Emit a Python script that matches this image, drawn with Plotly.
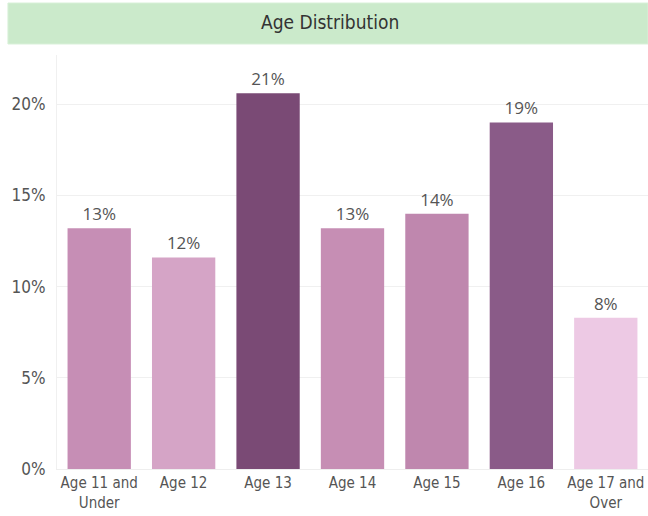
import plotly.graph_objects as go

categories = ["Age 11 and<br>Under", "Age 12", "Age 13", "Age 14", "Age 15", "Age 16", "Age 17 and<br>Over"]
values = [13.2, 11.6, 20.6, 13.2, 14.0, 19.0, 8.3]
labels = ["13%", "12%", "21%", "13%", "14%", "19%", "8%"]
colors = ["#C68EB5", "#D5A4C6", "#7A4A75", "#C68EB4", "#BF87AE", "#8A5B88", "#EDC9E4"]
tick_vals = [0, 5, 10, 15, 20]
tick_text = ["0%", "5%", "10%", "15%", "20%"]

cond = "DejaVu Sans Condensed, Liberation Sans Narrow, Liberation Sans, sans-serif"

fig = go.Figure(go.Bar(
    x=categories, y=values, text=labels, textposition="outside",
    marker=dict(color=colors, line=dict(width=0)),
    textfont=dict(family="Open Sans, Liberation Sans, sans-serif", size=17, color="#555555"),
    cliponaxis=False, hoverinfo="skip",
))

fig.update_layout(
    width=648, height=516,
    margin=dict(l=57, r=0, t=55, b=47),
    paper_bgcolor="white", plot_bgcolor="white",
    bargap=0.25,
    showlegend=False,
    font=dict(family=cond, color="#666666"),
    shapes=[dict(type="rect", xref="paper", yref="paper",
                 x0=-0.083, x1=1.0, y0=1.0266, y1=1.1256,
                 fillcolor="#CBEACB", line=dict(width=1, color="#D8F0D8"), layer="below")],
    annotations=[dict(text="Age Distribution", xref="paper", yref="paper",
                      x=0.462, y=1.0797, showarrow=False, xanchor="center", yanchor="middle",
                      font=dict(family=cond, size=19, color="#333333"))],
)

fig.update_xaxes(
    showgrid=False, showline=True, linecolor="#EEEEEE", linewidth=1,
    tickfont=dict(size=15, color="#555555"), ticks="",
)
fig.update_yaxes(
    range=[0, 22.7], tickvals=tick_vals, ticktext=tick_text,
    showgrid=True, gridcolor="#F0F0F0", gridwidth=1,
    zeroline=False, showline=True, linecolor="#F0F0F0",
    tickfont=dict(size=17, color="#555555"), ticks="", ticklabelstandoff=7,
)

fig.write_html("out.html", config={"displayModeBar": False},
               post_script="document.body.style.margin='0';document.body.style.overflow='hidden';")
